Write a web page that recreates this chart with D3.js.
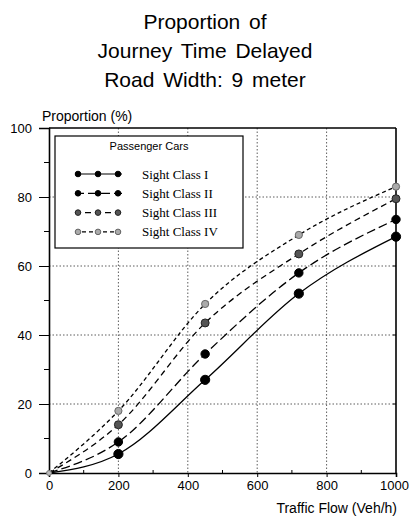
<!DOCTYPE html>
<html>
<head>
<meta charset="utf-8">
<script src="https://cdn.jsdelivr.net/npm/d3@7"></script>
<style>
  html, body { margin: 0; padding: 0; background: #fff; }
  svg { display: block; }
  .sans { font-family: "Liberation Sans", Arial, sans-serif; }
  .serif { font-family: "Liberation Serif", "Times New Roman", serif; }
</style>
</head>
<body>
<svg id="chart" width="409" height="525"></svg>
<script>
// Traffic flow (veh/h) at which delay was measured
const flows = [0, 200, 450, 720, 1000];

// Proportion of journey time delayed (%) per sight class
const classI   = [0, 5.5, 27, 52, 68.5];
const classII  = [0, 9, 34.5, 58, 73.5];
const classIII = [0, 14, 43.5, 63.5, 79.5];
const classIV  = [0, 18, 49, 69, 83];

const seriesNames = ["Sight Class I", "Sight Class II", "Sight Class III", "Sight Class IV"];
const xTicks = [0, 200, 400, 600, 800, 1000];
const yTicks = [0, 20, 40, 60, 80, 100];
const titleLines = ["Proportion of", "Journey Time Delayed", "Road Width: 9 meter"];

const series = [
  { name: seriesNames[0], values: classI,   dash: null,  fill: "#000", stroke: "#000", r: 4.6 },
  { name: seriesNames[1], values: classII,  dash: "9,4", fill: "#000", stroke: "#000", r: 4.2 },
  { name: seriesNames[2], values: classIII, dash: "6,4", fill: "#555", stroke: "#222", r: 4.0 },
  { name: seriesNames[3], values: classIV,  dash: "4,3", fill: "#aaa", stroke: "#666", r: 3.6 }
];

const svg = d3.select("#chart");
const plotL = 49, plotR = 396, plotT = 128, plotB = 473;

const x = d3.scaleLinear().domain([0, 1000]).range([plotL, plotR]);
const y = d3.scaleLinear().domain([0, 100]).range([plotB, plotT]);

// Title
svg.append("g").attr("class", "sans")
  .selectAll("text").data(titleLines).join("text")
  .attr("x", 205).attr("y", (d, i) => 29 + i * 29)
  .attr("text-anchor", "middle")
  .attr("font-size", 21)
  .attr("word-spacing", 3)
  .text(d => d);

// Dotted grid
const grid = svg.append("g").attr("stroke", "#333").attr("stroke-width", 0.8)
  .attr("stroke-dasharray", "1.5,2");
grid.selectAll("line.h").data(yTicks.slice(1, -1)).join("line")
  .attr("class", "h")
  .attr("x1", plotL).attr("x2", plotR)
  .attr("y1", d => y(d)).attr("y2", d => y(d));
grid.selectAll("line.v").data(xTicks.slice(1, -1)).join("line")
  .attr("class", "v")
  .attr("y1", plotT).attr("y2", plotB)
  .attr("x1", d => x(d)).attr("x2", d => x(d));

// Axes
const yAxis = d3.axisLeft(y).tickValues(yTicks).tickSize(10).tickPadding(7)
  .tickFormat(d3.format("d"));
const xAxis = d3.axisBottom(x).tickValues(xTicks).tickSize(4).tickPadding(4)
  .tickFormat(d3.format("d"));

const gy = svg.append("g").attr("transform", `translate(${plotL},0)`).call(yAxis);
const gx = svg.append("g").attr("transform", `translate(0,${plotB})`).call(xAxis);
[gy, gx].forEach(g => {
  g.attr("class", "sans").attr("font-size", 13).attr("font-family", null);
  g.select(".domain").attr("stroke", "#000").attr("stroke-width", 1.6);
  g.selectAll(".tick line").attr("stroke", "#000").attr("stroke-width", 1);
  g.selectAll(".tick text").attr("fill", "#000");
});
gx.selectAll(".tick").filter(d => d === 1000).select("text").attr("dx", -2);

// Minor ticks
const yMinor = d3.range(10, 100, 20);
svg.append("g").selectAll("line").data(yMinor).join("line")
  .attr("x1", plotL - 5).attr("x2", plotL)
  .attr("y1", d => y(d)).attr("y2", d => y(d))
  .attr("stroke", "#000");
const xMinor = d3.range(100, 1000, 200);
svg.append("g").selectAll("line").data(xMinor).join("line")
  .attr("y1", plotB).attr("y2", plotB - 3)
  .attr("x1", d => x(d)).attr("x2", d => x(d))
  .attr("stroke", "#000");

// Frame: top and right borders
svg.append("line").attr("x1", plotL).attr("x2", plotR).attr("y1", plotT).attr("y2", plotT)
  .attr("stroke", "#000").attr("stroke-width", 1.6);
svg.append("line").attr("x1", plotR).attr("x2", plotR).attr("y1", plotT).attr("y2", plotB)
  .attr("stroke", "#000").attr("stroke-width", 1.6);
svg.append("g").selectAll("line").data(yTicks.slice(1, -1)).join("line")
  .attr("x1", plotR - 3).attr("x2", plotR)
  .attr("y1", d => y(d)).attr("y2", d => y(d)).attr("stroke", "#000");

// Axis titles
svg.append("text").attr("class", "sans").attr("x", 42).attr("y", 121)
  .attr("font-size", 14).text("Proportion (%)");
svg.append("text").attr("class", "sans").attr("x", 397).attr("y", 513)
  .attr("text-anchor", "end").attr("font-size", 14).text("Traffic Flow (Veh/h)");

// Curves
const line = d3.line()
  .x(d => x(d[0])).y(d => y(d[1]))
  .curve(d3.curveMonotoneX);

series.forEach(s => {
  const pts = flows.map((f, i) => [f, s.values[i]]);
  svg.append("path").datum(pts)
    .attr("d", line)
    .attr("fill", "none")
    .attr("stroke", "#000")
    .attr("stroke-width", 1.3)
    .attr("stroke-dasharray", s.dash);
  svg.append("g").selectAll("circle").data(pts.slice(1)).join("circle")
    .attr("cx", d => x(d[0])).attr("cy", d => y(d[1]))
    .attr("r", s.r)
    .attr("fill", s.fill).attr("stroke", s.stroke).attr("stroke-width", 1);
});
// Origin marker
svg.append("circle").attr("cx", x(0)).attr("cy", y(0)).attr("r", 2.5)
  .attr("fill", "#bbb").attr("stroke", "#777");

// Legend
const lg = svg.append("g");
lg.append("rect").attr("x", 55).attr("y", 136).attr("width", 188).attr("height", 112)
  .attr("fill", "#fff").attr("stroke", "#000").attr("stroke-width", 1.2);
lg.append("text").attr("class", "sans").attr("x", 149).attr("y", 150)
  .attr("text-anchor", "middle").attr("font-size", 11).text("Passenger Cars");
series.forEach((s, i) => {
  const yy = 174 + i * 19.3;
  lg.append("line").attr("x1", 75).attr("x2", 122).attr("y1", yy).attr("y2", yy)
    .attr("stroke", "#000").attr("stroke-width", 1.2).attr("stroke-dasharray", s.dash);
  lg.append("g").selectAll("circle").data([78, 98, 118]).join("circle")
    .attr("cx", d => d).attr("cy", yy).attr("r", 2.8)
    .attr("fill", s.fill).attr("stroke", s.stroke);
  lg.append("text").attr("class", "serif").attr("x", 142).attr("y", yy + 4.5)
    .attr("font-size", 13).text(s.name);
});
</script>
</body>
</html>
